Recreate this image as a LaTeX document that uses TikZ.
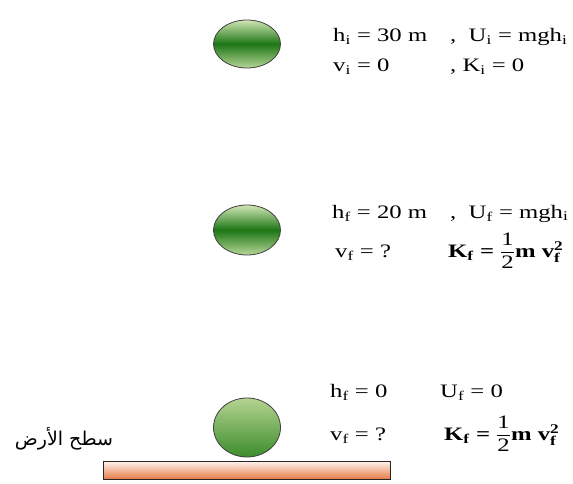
\documentclass[tikz,border=0pt]{standalone}
\usepackage{amsmath}
\usepackage{fontspec}
\setmainfont[FakeStretch=1.3]{Liberation Serif}
\newfontfamily\arabicfont[Script=Arabic]{DejaVu Sans}
\TeXXeTstate=1
\usetikzlibrary{shapes.geometric,positioning}
\definecolor{ballhigh}{HTML}{D2E6B6}
\definecolor{balldark}{HTML}{1C7614}
\definecolor{balllow}{HTML}{B8D698}
\definecolor{restlight}{HTML}{B4D490}
\definecolor{restdark}{HTML}{3C8C2C}
\definecolor{groundtop}{HTML}{FFF4F0}
\definecolor{groundbottom}{HTML}{E67C46}
\newcommand{\lowidx}[1]{\textsubscript{#1}}
\newcommand{\bfx}[1]{\text{\textbf{#1}}}
\tikzset{
  ball base/.style={ellipse,draw=black!75,line width=0.8pt,
    minimum width=67pt,inner sep=0pt},
  falling ball/.style={ball base,top color=ballhigh,bottom color=balllow,
    middle color=balldark},
  resting ball/.style={ball base,top color=restlight,bottom color=restdark},
  ground bar/.style={rectangle,draw=black!85,line width=0.8pt,
    top color=groundtop,bottom color=groundbottom,inner sep=0pt},
  eq label/.style={anchor=base west,inner sep=0pt,
    font=\fontsize{19}{22}\selectfont},
  ground label/.style={anchor=base,inner sep=0pt,
    font=\arabicfont\fontsize{19}{22}\selectfont}
}
\begin{document}
\begin{tikzpicture}[x=1pt,y=1pt]
  \useasboundingbox (0,0) rectangle (573,483);
  % balls
  \node[falling ball,minimum height=48pt] (balltop) at (247,439) {};
  \node[falling ball,minimum height=50pt] (ballmid) at (247,253) {};
  \node[resting ball,minimum height=59pt] (ballrest) at (247,55.5) {};
  % ground
  \node[ground bar,minimum width=287pt,minimum height=18pt] (ground)
    at (246.5,13) {};
  \node[ground label] (groundname) at (64,38)
    {\beginR سطح الأرض\endR};
  % initial state
  \node[eq label] (hinit) at (333,441) {h\lowidx{i} = 30 m};
  \node[eq label] (uinit) at (450,441) {,\ \ U\lowidx{i} = mgh\lowidx{i}};
  \node[eq label] (vinit) at (333,411) {v\lowidx{i} = 0};
  \node[eq label] (kinit) at (450,411) {, K\lowidx{i} = 0};
  % midway
  \node[eq label] (hmid) at (332,265) {h\lowidx{f} = 20 m};
  \node[eq label] (umid) at (450,265) {,\ \ U\lowidx{f} = mgh\lowidx{i}};
  \node[eq label] (vmid) at (335,226) {v\lowidx{f} = ?};
  \node[eq label] (kmid) at (448,226)
    {$\bfx{K}_{\bfx{f}}\ \bfx{=}\ \dfrac{\text{1}}{\text{2}}\bfx{m}\ \bfx{v}_{\bfx{f}}^{\bfx{2}}$};
  % at the ground
  \node[eq label] (hend) at (330,86) {h\lowidx{f} = 0};
  \node[eq label] (uend) at (440,86) {U\lowidx{f} = 0};
  \node[eq label] (vend) at (330,43) {v\lowidx{f} = ?};
  \node[eq label] (kend) at (444,43)
    {$\bfx{K}_{\bfx{f}}\ \bfx{=}\ \dfrac{\text{1}}{\text{2}}\bfx{m}\ \bfx{v}_{\bfx{f}}^{\bfx{2}}$};
\end{tikzpicture}
\end{document}
